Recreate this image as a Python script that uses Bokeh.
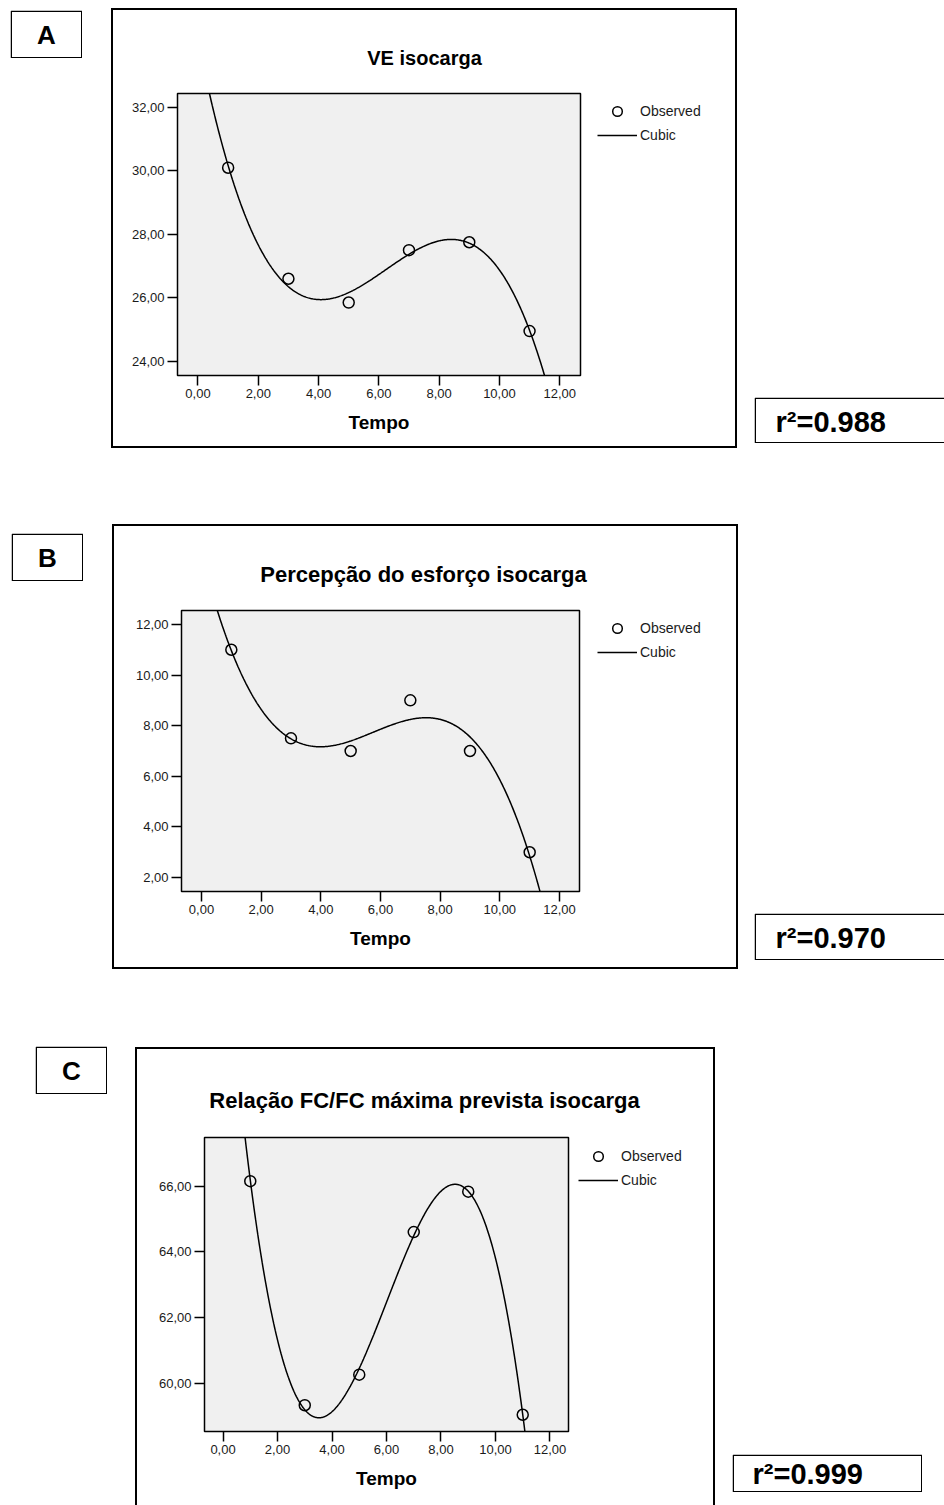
import numpy as np
from bokeh.plotting import figure
from bokeh.models import Legend, LegendItem, FixedTicker, Range1d, Spacer
from bokeh.layouts import column, row
from bokeh.core.properties import value
from bokeh.embed import file_html
from bokeh.resources import INLINE

# ---------------- data ----------------
tempo = [1, 3, 5, 7, 9, 11]
ve_isocarga = [30.10, 26.60, 25.85, 27.50, 27.75, 24.95]
esforco_isocarga = [11.0, 7.5, 7.0, 9.0, 7.0, 3.0]
fc_isocarga = [66.15, 59.33, 60.26, 64.60, 65.83, 59.04]

x_ticks = [0, 2, 4, 6, 8, 10, 12]
x_tick_labels = ["0,00", "2,00", "4,00", "6,00", "8,00", "10,00", "12,00"]
ve_y_ticks = [24, 26, 28, 30, 32]
ve_y_tick_labels = ["24,00", "26,00", "28,00", "30,00", "32,00"]
esforco_y_ticks = [2, 4, 6, 8, 10, 12]
esforco_y_tick_labels = ["2,00", "4,00", "6,00", "8,00", "10,00", "12,00"]
fc_y_ticks = [60, 62, 64, 66]
fc_y_tick_labels = ["60,00", "62,00", "64,00", "66,00"]

titles = ["VE isocarga", "Percepção do esforço isocarga",
          "Relação FC/FC máxima prevista isocarga"]
panel_letters = ["A", "B", "C"]
r2_labels = ["r²=0.988", "r²=0.970", "r²=0.999"]
x_axis_label = "Tempo"
legend_labels = ["Observed", "Cubic"]

FONT = "Liberation Sans"

# ---------------- layout (page pixel geometry) ----------------
# outer: (left, top, width, height); frame: (left, top, right, bottom)
panels = [
    dict(values=ve_isocarga, yt=ve_y_ticks, ytl=ve_y_tick_labels,
         xr=(-0.68, 12.69), yr=(23.55, 32.44), row_top=0,
         outer=(111, 8, 626, 440), frame=(177, 93, 580, 375), bottom_line=True,
         title_h=65, title_xy=(424, 57), title_size="20px",
         letter=(10, 10, 72, 48), r2=(754, 397, 190, 46), r2_text=(21, 24),
         leg=(597, 99)),
    dict(values=esforco_isocarga, yt=esforco_y_ticks, ytl=esforco_y_tick_labels,
         xr=(-0.67, 12.67), yr=(1.45, 12.55), row_top=448,
         outer=(112, 524, 626, 445), frame=(181, 610, 579, 891), bottom_line=True,
         title_h=65, title_xy=(423, 574), title_size="22px",
         letter=(11, 533, 72, 48), r2=(754, 913, 190, 47), r2_text=(21, 24),
         leg=(597, 616)),
    dict(values=fc_isocarga, yt=fc_y_ticks, ytl=fc_y_tick_labels,
         xr=(-0.68, 12.68), yr=(58.53, 67.48), row_top=969,
         outer=(135, 1047, 580, 458), frame=(204, 1137, 568, 1431), bottom_line=False,
         title_h=65, title_xy=(424, 1100), title_size="22px",
         letter=(35, 1046, 72, 48), r2=(732, 1454, 190, 38), r2_text=(20, 19),
         leg=(578, 1144)),
]

LEG_GH = 24


def hline(w):
    return Spacer(width=w, height=2, styles={"background-color": "black"})


def vline(h):
    return Spacer(width=2, height=h, styles={"background-color": "black"})


def plain_fig(w, h):
    p = figure(width=w, height=h, min_border=0, x_range=Range1d(0, w),
               y_range=Range1d(h, 0), output_backend="svg", title=None,
               toolbar_location=None, x_axis_type=None, y_axis_type=None)
    p.outline_line_color = None
    p.background_fill_color = "white"
    p.border_fill_color = "white"
    return p


def box_fig(w, h, text, tx, ty, size, align, right_open=False):
    p = plain_fig(w, h)
    r = w + 6 if right_open else w - 0.75
    p.quad(left=[0.75], right=[r], top=[0.75], bottom=[h - 0.75],
           fill_color=None, line_color="black", line_width=1.5)
    p.text(x=[tx], y=[ty], text=[text], text_font=value(FONT),
           text_font_style="bold", text_font_size=size, text_align=align,
           text_baseline="middle", text_color="black")
    return p


def title_fig(w, h, text, tx, ty, size):
    p = plain_fig(w, h)
    p.text(x=[tx], y=[ty], text=[text], text_font=value(FONT),
           text_font_style="bold", text_font_size=size, text_align="center",
           text_baseline="middle", text_color="black")
    return p


def cubic_curve(c):
    coef = np.polyfit(tempo, c["values"], 3)
    xs = np.linspace(c["xr"][0], c["xr"][1], 500)
    return xs, np.polyval(coef, xs)


def chart_fig(c, w, h, L, R, T, B):
    p = figure(width=w, height=h, min_border_left=L, min_border_right=R,
               min_border_top=T, min_border_bottom=B, title=None,
               x_range=Range1d(*c["xr"]), y_range=Range1d(*c["yr"]),
               output_backend="svg", toolbar_location=None,
               background_fill_color="#f0f0f0", border_fill_color="white")
    p.outline_line_color = "black"
    p.outline_line_width = 1.5
    p.grid.visible = False

    p.xaxis.ticker = FixedTicker(ticks=x_ticks)
    p.xaxis.major_label_overrides = {t: l for t, l in zip(x_ticks, x_tick_labels)}
    p.yaxis.ticker = FixedTicker(ticks=c["yt"])
    p.yaxis.major_label_overrides = {t: l for t, l in zip(c["yt"], c["ytl"])}
    for ax in (p.xaxis[0], p.yaxis[0]):
        ax.axis_line_color = None
        ax.major_tick_out = 10
        ax.major_tick_in = 0
        ax.major_tick_line_color = "black"
        ax.major_tick_line_width = 1.5
        ax.minor_tick_line_color = None
        ax.major_label_text_font = FONT
        ax.major_label_text_font_size = "13px"
        ax.major_label_text_color = "#1a1a1a"
        ax.major_label_standoff = 3
    p.xaxis.axis_label = x_axis_label
    p.xaxis.axis_label_text_font = FONT
    p.xaxis.axis_label_text_font_style = "bold"
    p.xaxis.axis_label_text_font_size = "19px"
    p.xaxis.axis_label_text_color = "black"
    p.xaxis.axis_label_standoff = 11

    xs, ys = cubic_curve(c)
    p.line(xs, ys, line_color="black", line_width=1.5)
    p.scatter(tempo, c["values"], marker="circle", size=11, fill_color=None,
              line_color="black", line_width=1.5)
    return p


def legend_fig(c, w, x_off):
    # legend keys reuse the panel's series, but the view range keeps them
    # out of sight: only the legend itself is visible in this strip
    h = 2 * LEG_GH
    p = figure(width=w, height=h, min_border=0, x_range=Range1d(1000, 1001),
               y_range=Range1d(1000, 1001), output_backend="svg", title=None,
               toolbar_location=None, x_axis_type=None, y_axis_type=None)
    p.outline_line_color = None
    p.background_fill_color = "white"
    xs, ys = cubic_curve(c)
    sc = p.scatter(tempo, c["values"], marker="circle", size=11,
                   fill_color=None, line_color="black", line_width=1.5)
    ln = p.line(xs, ys, line_color="black", line_width=1.5)
    legend = Legend(items=[LegendItem(label=legend_labels[0], renderers=[sc]),
                           LegendItem(label=legend_labels[1], renderers=[ln])],
                    location=(x_off, 0), orientation="vertical",
                    glyph_width=40, glyph_height=LEG_GH, spacing=0, padding=0,
                    margin=0, border_line_color=None, background_fill_alpha=0,
                    label_text_font=FONT, label_text_font_size="14px",
                    label_text_color="#1a1a1a", label_standoff=3,
                    label_height=20)
    p.add_layout(legend)
    return p


def outer_box(i, c):
    ol, ot, cw, ch = c["outer"]
    fl, ft, fr, fb = c["frame"]
    inner_w = cw - 4
    inner_h = ch - 2 - (2 if c["bottom_line"] else 0)
    il, it = ol + 2, ot + 2
    th = c["title_h"]
    tx, ty = c["title_xy"]
    tfig = title_fig(inner_w, th, titles[i], tx - il, ty - it, c["title_size"])

    ctop = it + th
    wc = fr + 2 - il
    hc = inner_h - th
    cfig = chart_fig(c, wc, hc, fl - il, 2, ft - ctop, it + inner_h - fb)

    lw = inner_w - wc
    lx, ltop = c["leg"]
    lfig = legend_fig(c, lw, lx - (il + wc))
    lcol = column(Spacer(width=lw, height=ltop - ctop), lfig, spacing=0)

    inner = column(tfig, row(cfig, lcol, spacing=0), spacing=0)
    mid = row(vline(inner_h), inner, vline(inner_h), spacing=0)
    parts = [hline(cw), mid]
    if c["bottom_line"]:
        parts.append(hline(cw))
    return column(*parts, spacing=0)


rows = []
for i, c in enumerate(panels):
    rt = c["row_top"]
    ll, lt, lw, lh = c["letter"]
    ol, ot, cw, ch = c["outer"]
    rl, rtop, rw, rh = c["r2"]
    letter = box_fig(lw, lh, panel_letters[i], lw / 2, lh / 2, "26px", "center")
    r2 = box_fig(rw, rh, r2_labels[i], c["r2_text"][0], c["r2_text"][1],
                 "29px", "left", right_open=(rl + rw >= 944))
    kids = [
        Spacer(width=ll, height=1),
        column(Spacer(width=lw, height=lt - rt), letter, spacing=0),
        Spacer(width=ol - ll - lw, height=1),
        column(Spacer(width=cw, height=ot - rt), outer_box(i, c), spacing=0),
        Spacer(width=rl - ol - cw, height=1),
        column(Spacer(width=rw, height=rtop - rt), r2, spacing=0),
    ]
    rows.append(row(*kids, spacing=0))

layout = column(*rows, spacing=0)
open("out.html", "w").write(file_html(layout, INLINE))
